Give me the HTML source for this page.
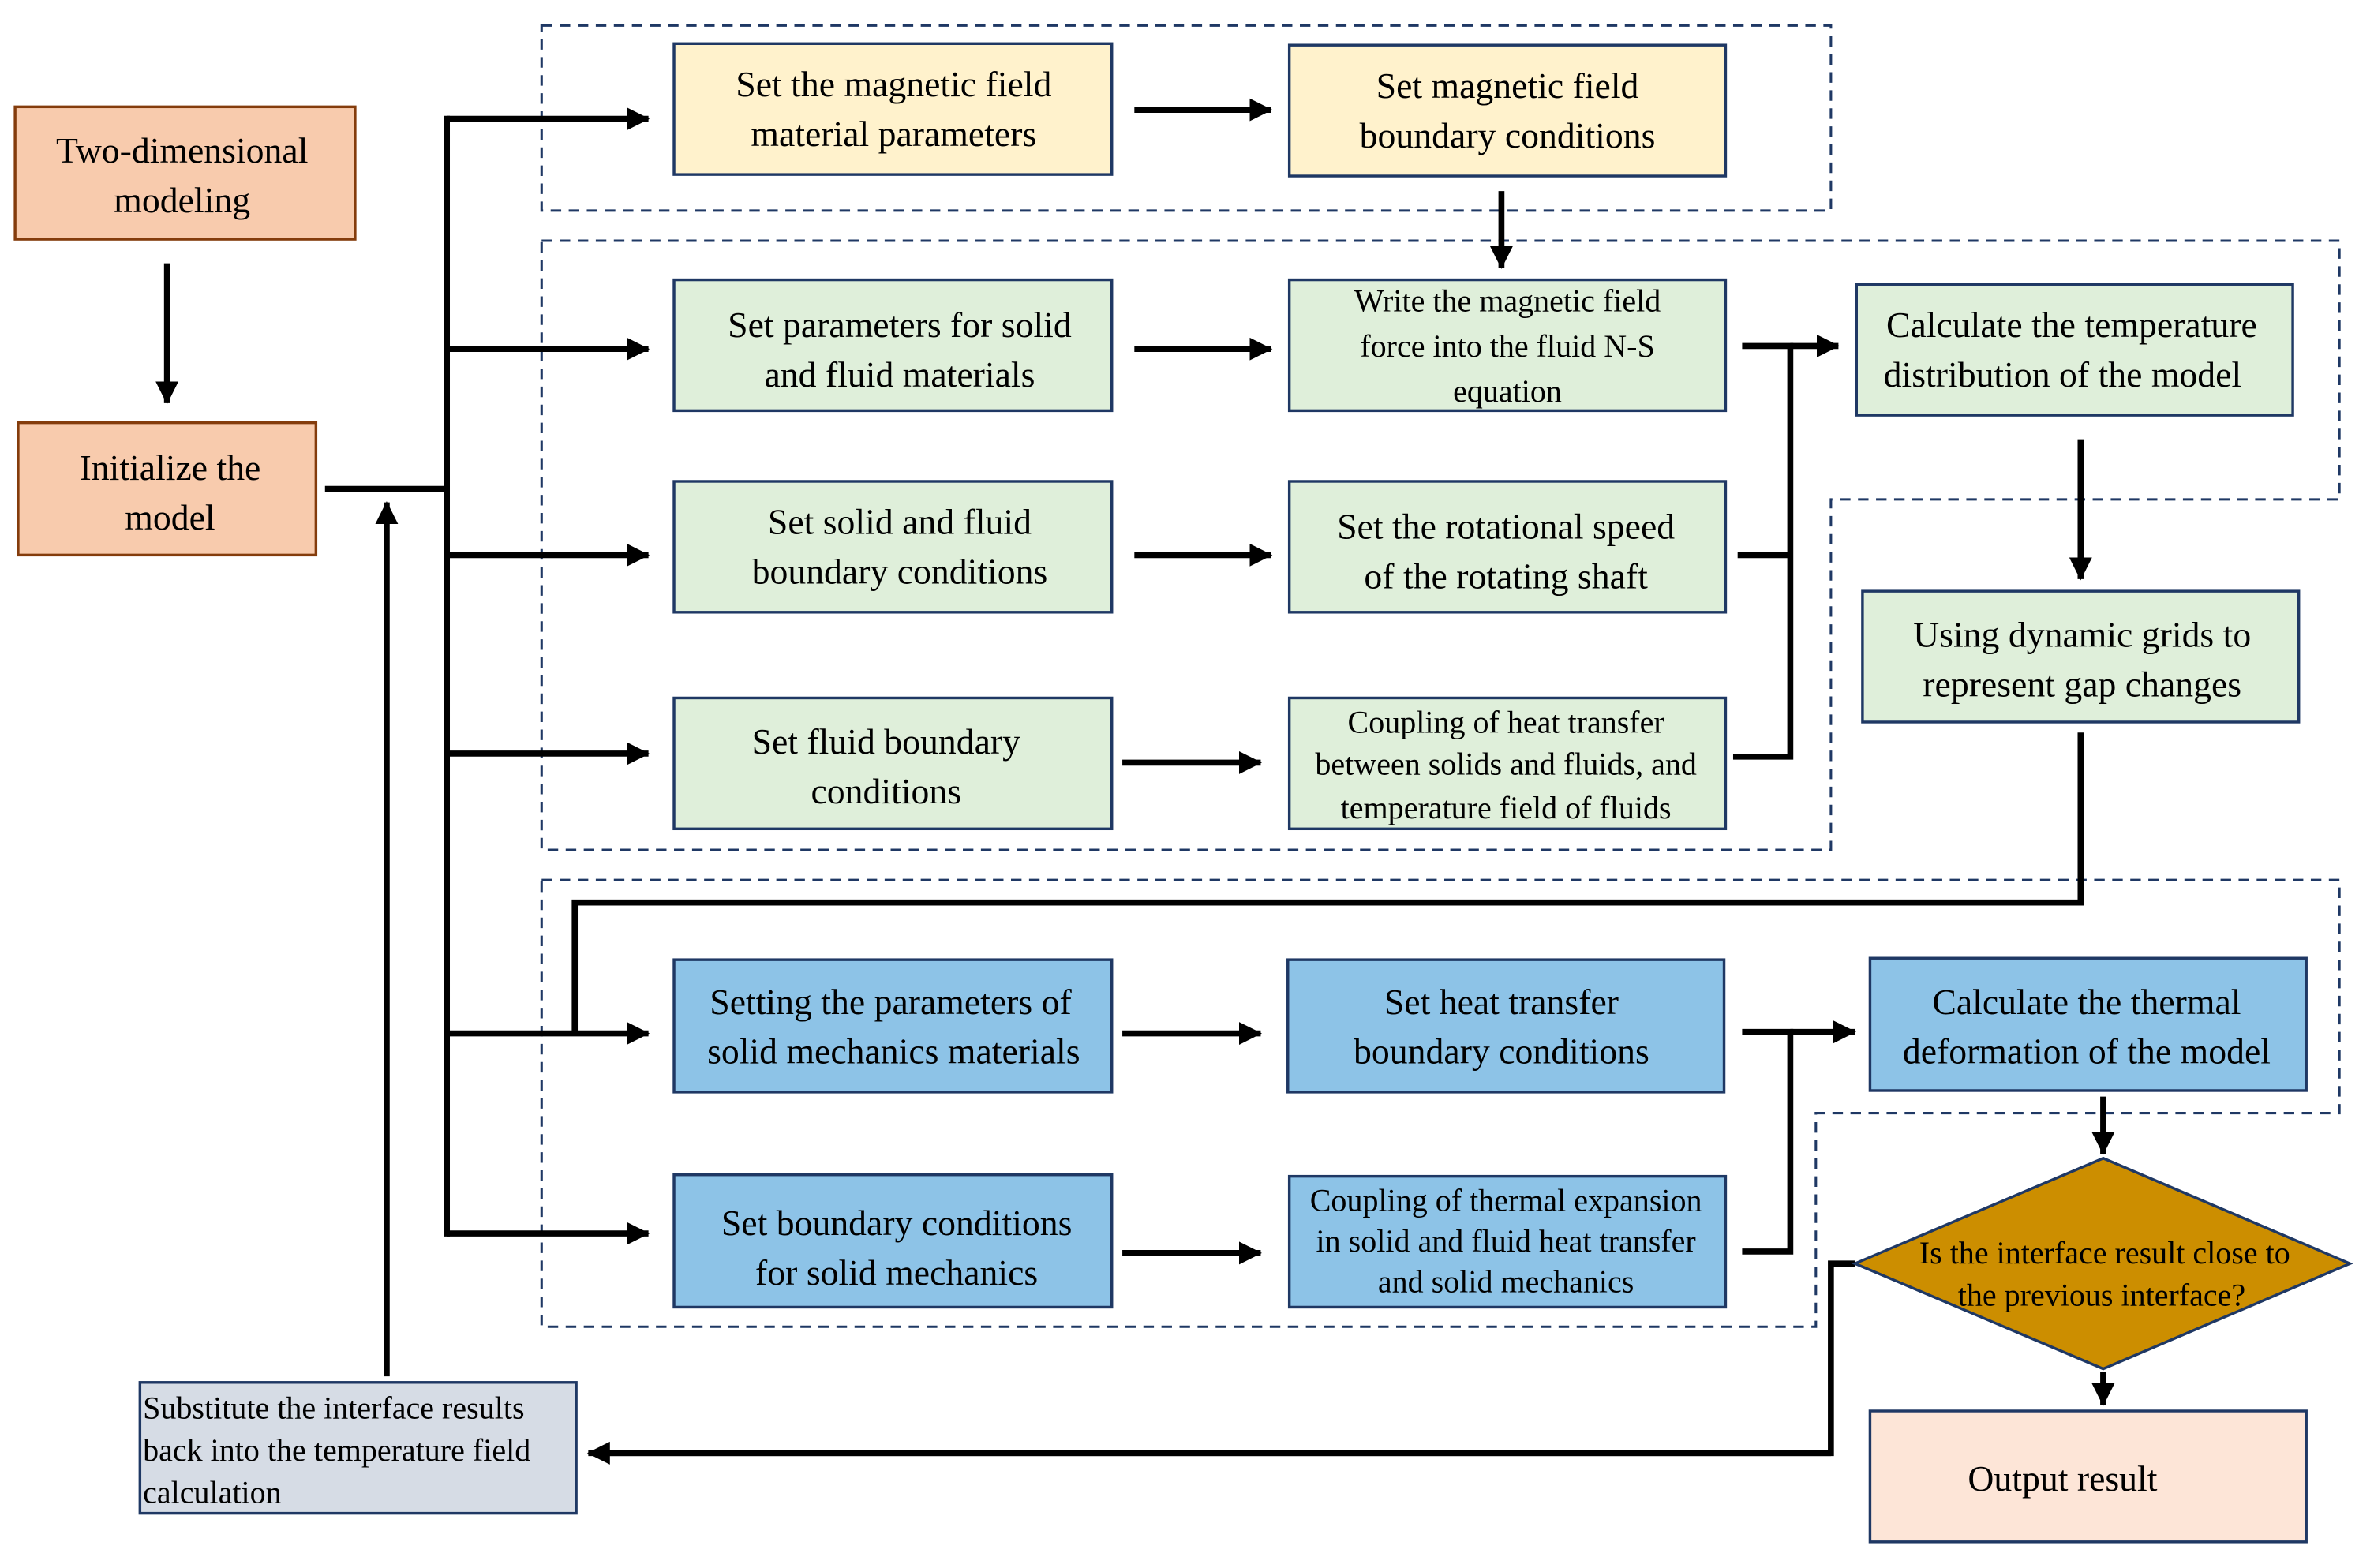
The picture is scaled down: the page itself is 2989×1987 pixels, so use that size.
<!DOCTYPE html>
<html><head><meta charset="utf-8"><style>
html,body{margin:0;padding:0;background:#fff}
svg{display:block}
text{font-family:"Liberation Serif","Times New Roman","DejaVu Serif",serif;fill:#000}
</style></head><body>
<svg width="2989" height="1987" viewBox="0 0 1568 1042.4" xmlns="http://www.w3.org/2000/svg" font-family="Liberation Serif, Times New Roman, DejaVu Serif, serif">
<defs>
<marker id="a" markerWidth="5" markerHeight="5" refX="3.6" refY="2.5" orient="auto" markerUnits="strokeWidth">
<path d="M0,0.6 L3.8,2.5 L0,4.4 Z" fill="#000"/></marker>
</defs>
<rect width="1568" height="1042.4" fill="#fff"/>
<g fill="none" stroke="#1F3864" stroke-width="1.6" stroke-dasharray="7,5">
<rect x="360" y="17" width="857" height="123"/>
<path d="M360,160 H1555 V332 H1217 V565 H360 Z"/>
<path d="M360,585 H1555 V740 H1207 V882 H360 Z"/>
</g>
<g stroke="#000" stroke-width="4" fill="none">
<line x1="111" y1="175" x2="111" y2="268" marker-end="url(#a)"/>
<line x1="216" y1="325" x2="297" y2="325"/>
<line x1="297" y1="77" x2="297" y2="822"/>
<line x1="297" y1="79" x2="431" y2="79" marker-end="url(#a)"/>
<line x1="297" y1="232" x2="431" y2="232" marker-end="url(#a)"/>
<line x1="297" y1="369" x2="431" y2="369" marker-end="url(#a)"/>
<line x1="297" y1="501" x2="431" y2="501" marker-end="url(#a)"/>
<line x1="297" y1="687" x2="431" y2="687" marker-end="url(#a)"/>
<line x1="297" y1="820" x2="431" y2="820" marker-end="url(#a)"/>
<line x1="257" y1="915" x2="257" y2="334" marker-end="url(#a)"/>
<line x1="754" y1="73" x2="845" y2="73" marker-end="url(#a)"/>
<line x1="998" y1="127" x2="998" y2="178" marker-end="url(#a)"/>
<line x1="754" y1="232" x2="845" y2="232" marker-end="url(#a)"/>
<line x1="754" y1="369" x2="845" y2="369" marker-end="url(#a)"/>
<line x1="746" y1="507" x2="838" y2="507" marker-end="url(#a)"/>
<path d="M1158,230 H1190 M1155,369 H1190 M1152,503 H1190 M1190,228 V505"/>
<line x1="1190" y1="230" x2="1222" y2="230" marker-end="url(#a)"/>
<line x1="1383" y1="292" x2="1383" y2="385" marker-end="url(#a)"/>
<path d="M1383,487 V600 H382 V687"/>
<line x1="746" y1="687" x2="838" y2="687" marker-end="url(#a)"/>
<line x1="746" y1="833" x2="838" y2="833" marker-end="url(#a)"/>
<path d="M1158,686 H1190 M1158,832 H1190 M1190,684 V834"/>
<line x1="1190" y1="686" x2="1233" y2="686" marker-end="url(#a)"/>
<line x1="1398" y1="729" x2="1398" y2="767" marker-end="url(#a)"/>
<line x1="1398" y1="912" x2="1398" y2="934" marker-end="url(#a)"/>
<path d="M1233,840 H1217 V966 H402"/>
<line x1="1217" y1="966" x2="391" y2="966" marker-end="url(#a)"/>
</g>
<g stroke-width="1.8">
<rect x="10" y="71" width="226" height="88" fill="#F8CBAD" stroke="#843C0C"/>
<rect x="12" y="281" width="198" height="88" fill="#F8CBAD" stroke="#843C0C"/>
<rect x="448" y="29" width="291" height="87" fill="#FFF2CC" stroke="#1F3864"/>
<rect x="857" y="30" width="290" height="87" fill="#FFF2CC" stroke="#1F3864"/>
<g fill="#DFEFDA" stroke="#1F3864">
<rect x="448" y="186" width="291" height="87"/>
<rect x="857" y="186" width="290" height="87"/>
<rect x="448" y="320" width="291" height="87"/>
<rect x="857" y="320" width="290" height="87"/>
<rect x="448" y="464" width="291" height="87"/>
<rect x="857" y="464" width="290" height="87"/>
<rect x="1234" y="189" width="290" height="87"/>
<rect x="1238" y="393" width="290" height="87"/>
</g>
<g fill="#8DC3E7" stroke="#1F3864">
<rect x="448" y="638" width="291" height="88"/>
<rect x="856" y="638" width="290" height="88"/>
<rect x="448" y="781" width="291" height="88"/>
<rect x="857" y="782" width="290" height="87"/>
<rect x="1243" y="637" width="290" height="88"/>
</g>
<path d="M1398,770 L1562,840 L1398,910 L1233,840 Z" fill="#CC8E00" stroke="#1F3864"/>
<rect x="1243" y="938" width="290" height="87" fill="#FDE5D7" stroke="#1F3864"/>
<rect x="93" y="919" width="290" height="87" fill="#D6DCE5" stroke="#1F3864"/>
</g>
<g font-size="24" text-anchor="middle">
<text x="121" y="108">Two-dimensional</text><text x="121" y="141">modeling</text>
<text x="113" y="319">Initialize the</text><text x="113" y="352">model</text>
<text x="594" y="64">Set the magnetic field</text><text x="594" y="97">material parameters</text>
<text x="1002" y="65">Set magnetic field</text><text x="1002" y="98">boundary conditions</text>
<text x="598" y="224">Set parameters for solid</text><text x="598" y="257">and fluid materials</text>
<text x="598" y="355">Set solid and fluid</text><text x="598" y="388">boundary conditions</text>
<text x="589" y="501">Set fluid boundary</text><text x="589" y="534">conditions</text>
<text x="1001" y="358">Set the rotational speed</text><text x="1001" y="391">of the rotating shaft</text>
<text x="1377" y="224">Calculate the temperature</text><text x="1371" y="257">distribution of the model</text>
<text x="1384" y="430">Using dynamic grids to</text><text x="1384" y="463">represent gap changes</text>
<text x="592" y="674">Setting the parameters of</text><text x="594" y="707">solid mechanics materials</text>
<text x="998" y="674">Set heat transfer</text><text x="998" y="707">boundary conditions</text>
<text x="596" y="821">Set boundary conditions</text><text x="596" y="854">for solid mechanics</text>
<text x="1387" y="674">Calculate the thermal</text><text x="1387" y="707">deformation of the model</text>
<text x="1371" y="991">Output result</text>
</g>
<g font-size="21" text-anchor="middle">
<text x="1002" y="207">Write the magnetic field</text><text x="1002" y="237">force into the fluid N-S</text><text x="1002" y="267">equation</text>
<text x="1001" y="487">Coupling of heat transfer</text><text x="1001" y="515">between solids and fluids, and</text><text x="1001" y="544">temperature field of fluids</text>
<text x="1001" y="805">Coupling of thermal expansion</text><text x="1001" y="832">in solid and fluid heat transfer</text><text x="1001" y="859">and solid mechanics</text>
<text x="1399" y="840">Is the interface result close to</text><text x="1397" y="868">the previous interface?</text>
</g>
<g font-size="21">
<text x="95" y="943">Substitute the interface results</text>
<text x="95" y="971">back into the temperature field</text>
<text x="95" y="999">calculation</text>
</g>
</svg>
</body></html>
